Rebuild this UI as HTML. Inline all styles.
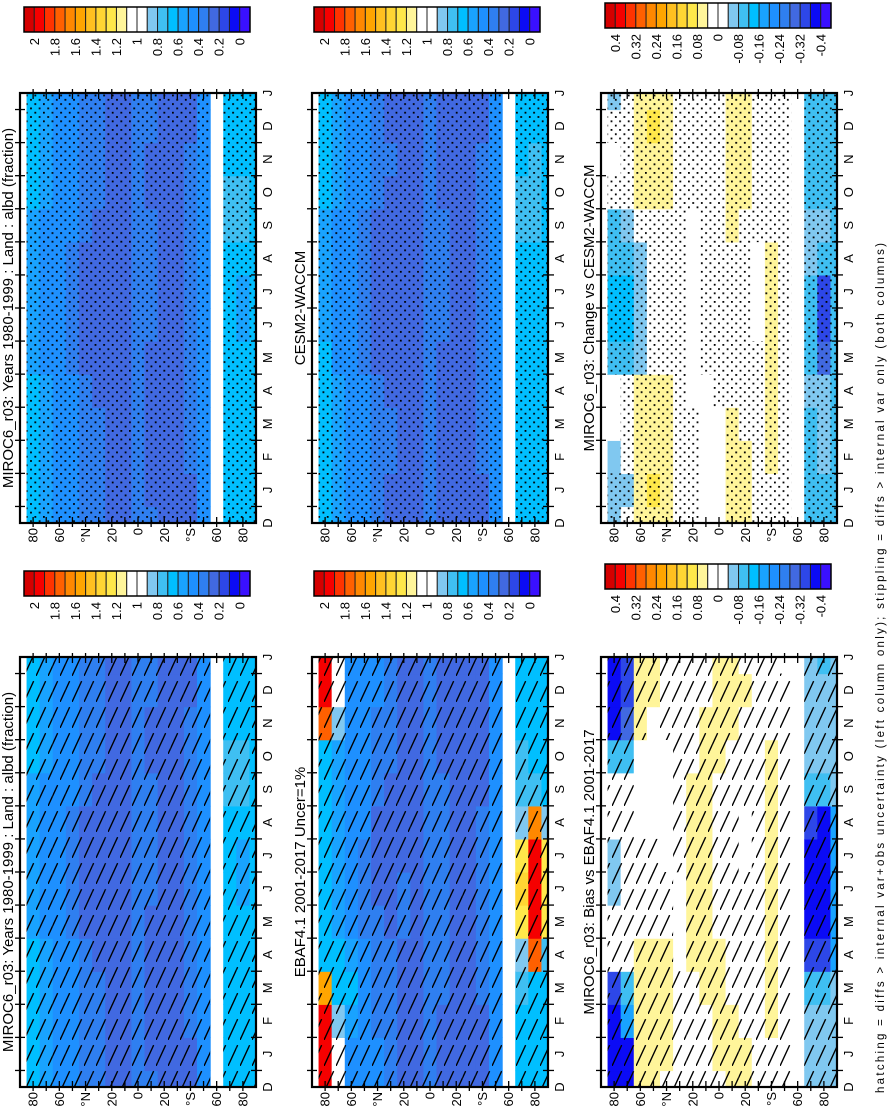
<!DOCTYPE html>
<html><head><meta charset="utf-8"><style>
html,body{margin:0;padding:0;background:#fff;}
svg{display:block;font-family:"Liberation Sans",Arial,sans-serif;}
</style></head><body>
<svg id="fig" width="891" height="1107" viewBox="0 0 891 1107" xmlns="http://www.w3.org/2000/svg">
<defs>
<pattern id="stip" patternUnits="userSpaceOnUse" width="8.6" height="8.6">
<rect x="0" y="0" width="1.8" height="1.8" fill="#000"/>
<rect x="4.3" y="4.3" width="1.8" height="1.8" fill="#000"/>
</pattern>
<pattern id="hatch" patternUnits="userSpaceOnUse" width="12" height="26">
<line x1="0" y1="26" x2="12" y2="0" stroke="#000" stroke-width="1.4" stroke-dasharray="23 5.6"/>
</pattern>
</defs>
<g id="root"></g>
</svg>
<script>
// ---- data ----
const months = ['D','J','F','M','A','M','J','J','A','S','O','N','D','J'];
const latBandEdges = [90,85,75,65,55,45,35,25,15,5,-5,-15,-25,-35,-45,-55,-65,-75,-85,-90];
const latTickLabels = ['80','60','°N','20','0','20','°S','60','80'];
const latTickValues = [80,60,40,20,0,-20,-40,-60,-80];
const absTickLabels = ['2','1.8','1.6','1.4','1.2','1','0.8','0.6','0.4','0.2','0'];
const diffTickLabels = ['0.4','0.32','0.24','0.16','0.08','0','-0.08','-0.16','-0.24','-0.32','-0.4'];
const palette = ['#d40000','#f50000','#ff3300','#ff6000','#ff8800','#ffa500','#ffc020','#ffd633','#ffe84a','#fff59a','#ffffff','#ffffff','#80c8f0','#3fbff2','#00bfff','#19a3ff','#1e90ff','#2f7ff0','#4169e1','#2d47e8','#0b0bf5','#3a10ff'];
const N = null;
const miroc = [
[N,N,N,N,N,N,N,N,N,N,N,N,N,N],
[.65,.65,.65,.65,.6,.55,.55,.55,.55,.55,.6,.65,.65,.65],
[.55,.55,.55,.55,.5,.45,.45,.45,.45,.45,.55,.55,.55,.55],
[.45,.45,.45,.45,.45,.45,.45,.45,.45,.45,.45,.45,.45,.45],
[.45,.45,.45,.45,.45,.35,.35,.35,.35,.45,.45,.45,.45,.45],
[.35,.35,.35,.35,.35,.25,.25,.25,.25,.35,.35,.35,.35,.35],
[.35,.35,.35,.35,.25,.25,.25,.25,.25,.25,.35,.35,.35,.35],
[.25,.25,.25,.25,.25,.25,.25,.25,.25,.25,.25,.25,.25,.25],
[.25,.25,.25,.25,.25,.25,.25,.25,.25,.25,.25,.25,.25,.25],
[.35,.35,.35,.35,.35,.35,.35,.35,.35,.35,.35,.35,.35,.35],
[.35,.25,.25,.25,.25,.25,.35,.35,.35,.35,.25,.25,.35,.35],
[.25,.25,.25,.25,.25,.25,.25,.25,.25,.25,.25,.25,.25,.25],
[.25,.25,.25,.25,.25,.25,.25,.25,.25,.25,.25,.25,.25,.25],
[.25,.25,.35,.35,.35,.35,.35,.35,.35,.35,.35,.35,.25,.25],
[.45,.45,.45,.45,.45,.45,.45,.45,.45,.45,.45,.45,.45,.45],
[N,N,N,N,N,N,N,N,N,N,N,N,N,N],
[.65,.65,.65,.65,.65,.65,.65,.65,.65,.75,.75,.65,.65,.65],
[.65,.65,.65,.65,.65,.65,.55,.55,.65,.75,.75,.65,.65,.65],
[.65,.65,.65,.65,.65,.65,.65,.65,.65,.65,.65,.65,.65,.65]
];
const cesm = [
[N,N,N,N,N,N,N,N,N,N,N,N,N,N],
[.65,.65,.65,.65,.65,.6,.55,.55,.55,.55,.6,.65,.65,.65],
[.55,.55,.55,.55,.55,.45,.45,.45,.45,.45,.55,.55,.55,.55],
[.45,.45,.45,.45,.45,.45,.45,.45,.45,.45,.45,.45,.45,.45],
[.45,.45,.45,.45,.45,.35,.35,.35,.35,.35,.45,.45,.45,.45],
[.35,.35,.35,.35,.35,.25,.25,.25,.25,.25,.35,.35,.35,.35],
[.25,.25,.35,.35,.25,.25,.25,.25,.25,.25,.25,.35,.25,.25],
[.25,.25,.25,.25,.25,.25,.25,.25,.25,.25,.25,.25,.25,.25],
[.25,.25,.25,.25,.25,.25,.25,.25,.25,.25,.25,.25,.25,.25],
[.35,.35,.35,.35,.35,.35,.35,.35,.35,.35,.35,.35,.35,.35],
[.25,.25,.25,.25,.25,.25,.35,.35,.35,.35,.25,.25,.25,.25],
[.25,.25,.25,.25,.25,.25,.25,.25,.25,.25,.25,.25,.25,.25],
[.25,.25,.25,.25,.25,.25,.25,.25,.25,.25,.25,.25,.25,.25],
[.25,.25,.35,.35,.35,.35,.35,.35,.35,.35,.35,.35,.25,.25],
[.45,.45,.45,.45,.45,.45,.45,.45,.45,.45,.45,.45,.45,.45],
[N,N,N,N,N,N,N,N,N,N,N,N,N,N],
[.65,.65,.65,.65,.65,.65,.65,.65,.65,.75,.75,.65,.65,.65],
[.65,.65,.65,.65,.65,.65,.65,.65,.65,.75,.75,.75,.65,.65],
[.65,.65,.65,.65,.65,.65,.65,.65,.65,.65,.65,.65,.65,.65]
];
const ebaf = [
[N,N,N,N,N,N,N,N,N,N,N,N,N,N],
[1.95,1.95,1.95,1.5,.65,.65,.65,.65,.65,.65,.65,1.7,1.95,1.95],
[1.05,1.05,.85,.65,.65,.55,.55,.55,.55,.55,.55,.85,1.05,1.05],
[.45,.45,.55,.65,.55,.45,.45,.45,.45,.45,.45,.45,.45,.45],
[.45,.45,.45,.45,.45,.35,.35,.35,.45,.45,.45,.45,.45,.45],
[.45,.45,.35,.35,.35,.35,.25,.25,.25,.35,.35,.35,.45,.45],
[.35,.35,.35,.35,.35,.25,.25,.25,.25,.25,.35,.35,.35,.35],
[.25,.25,.25,.25,.25,.35,.35,.25,.25,.25,.25,.25,.25,.25],
[.25,.25,.25,.25,.25,.25,.25,.25,.25,.25,.25,.25,.25,.25],
[.35,.35,.35,.35,.35,.35,.35,.35,.35,.35,.35,.35,.35,.35],
[.25,.25,.25,.35,.35,.35,.35,.35,.35,.35,.25,.25,.25,.25],
[.25,.25,.25,.25,.25,.25,.25,.25,.25,.25,.25,.25,.25,.25],
[.25,.25,.25,.25,.25,.25,.25,.25,.25,.25,.25,.25,.25,.25],
[.25,.25,.25,.35,.35,.35,.35,.35,.35,.25,.25,.25,.25,.25],
[.45,.45,.45,.45,.45,.45,.45,.45,.45,.45,.45,.45,.45,.45],
[N,N,N,N,N,N,N,N,N,N,N,N,N,N],
[.65,.65,.65,.75,.85,1.2,1.3,1.2,.85,.75,.75,.65,.65,.65],
[.65,.65,.65,.65,1.7,1.95,1.95,1.95,1.6,.75,.65,.65,.65,.65],
[.65,.65,.65,.65,.75,1.2,1.2,1.2,.85,.65,.65,.65,.65,.65]
];
const change = [
[N,N,N,N,N,N,N,N,N,N,N,N,N,N],
[-.05,-.05,-.06,0,0,-.1,-.15,-.15,-.12,-.1,0,0,0,-.05],
[0,-.05,0,0,0,-.1,-.15,-.15,-.12,-.08,0,0,0,0],
[.05,.05,.05,.05,.05,-.06,-.06,-.06,-.05,0,.05,.05,.05,.05],
[.06,.09,.06,.05,.05,0,0,0,0,0,.05,.06,.09,.07],
[.05,.05,.05,.05,.05,0,0,0,0,0,.05,.05,.05,.05],
[0,0,0,0,0,0,0,0,0,0,0,0,0,0],
[0,0,0,0,0,0,0,0,0,0,0,0,0,0],
[0,0,0,0,0,0,0,0,0,0,0,0,0,0],
[0,0,0,0,0,0,0,0,0,0,0,0,0,0],
[.05,.05,.05,.05,0,0,0,0,0,.05,.05,.05,.05,.05],
[.05,.05,.05,0,0,0,0,0,0,0,.05,.05,.05,.05],
[0,0,0,0,0,0,0,0,0,0,0,0,0,0],
[0,0,.05,.05,.05,.05,.05,.05,.05,0,0,0,0,0],
[0,0,0,0,0,0,0,0,0,0,0,0,0,0],
[N,N,N,N,N,N,N,N,N,N,N,N,N,N],
[-.12,-.12,-.1,-.1,-.06,-.1,-.1,-.1,-.06,-.06,-.1,-.12,-.12,-.12],
[-.1,-.1,-.08,-.05,-.05,-.3,-.35,-.35,-.1,-.05,-.1,-.1,-.1,-.1],
[-.1,-.1,-.1,-.1,-.1,-.1,-.1,-.1,-.1,-.1,-.1,-.1,-.1,-.1]
];
const bias = [
[N,N,N,N,N,N,N,N,N,N,N,N,N,N],
[-.4,-.4,-.4,-.35,-.02,0,-.05,-.05,0,0,-.1,-.4,-.4,-.4],
[-.4,-.4,-.2,-.1,0,0,0,0,0,0,-.1,-.3,-.35,-.35],
[.05,.05,.06,.06,.05,0,0,0,0,0,0,.05,.05,.05],
[.05,.06,.07,.07,.05,0,0,0,0,0,0,0,.05,.05],
[0,.05,.05,.05,.05,0,0,0,0,0,0,0,0,0],
[0,0,0,0,0,0,0,0,0,0,0,0,0,0],
[0,0,0,0,.05,.05,.05,.05,.05,.05,0,0,0,0],
[0,0,0,.05,.05,.05,.05,.05,.05,.05,.05,.05,0,0],
[0,.05,.05,.05,.05,0,0,0,0,0,.05,.05,.05,.05],
[.05,.05,.05,0,0,0,0,0,0,0,0,.05,.05,.05],
[.05,.05,0,0,0,0,0,0,0,0,0,0,.05,0],
[0,0,0,0,0,0,0,0,0,0,0,0,0,0],
[0,0,.05,.05,.05,.05,.05,.05,.05,.05,.05,0,0,0],
[0,0,0,0,0,0,0,0,0,0,0,0,0,0],
[N,N,N,N,N,N,N,N,N,N,N,N,N,N],
[-.06,-.06,-.06,-.1,-.35,-.4,-.4,-.4,-.35,-.1,-.06,-.06,-.06,-.06],
[-.06,-.06,-.06,-.1,-.35,-.4,-.4,-.4,-.4,-.1,-.06,-.06,-.06,-.1],
[-.06,-.06,-.06,-.06,-.2,-.2,-.2,-.2,-.2,-.06,-.06,-.06,-.06,-.06]
];
const stippleMaskChange = ['00000000000000','11000111111011','11111111111111','11111111111111','11111111111111','11111111111111','11111111111111','11110000001111','00000111111111','00001111111111','11111111111111','11111111111111','11111100011111','11111111111111','11111111111111','00000000000000','11111111111111','11111111111111','11111111111111'];
const hatchMaskBias = ['00000000000000','11111111111111','11111111111111','11111111000111','11111111000011','11111110000111','11110001111111','11111111111111','11111111111111','11111111111111','11111111111111','11111110011111','11111111111111','11111111111111','11111111111110','00000000000000','11111111111111','11111111111111','11111111111111'];

// ---- layout ----
const PW = 236, PH = 430;
const NS = 'http://www.w3.org/2000/svg';
const root = document.getElementById('root');
function mk(tag, attrs, parent){ const e=document.createElementNS(NS,tag); for(const k in attrs) e.setAttribute(k,attrs[k]); (parent||root).appendChild(e); return e; }
function boundsFor(kind){ const b=[]; for(let k=1;k<=21;k++){ b.push(kind==='abs' ? 2.1-0.1*k : 0.44-0.04*k); } return b; }
function colorFor(v, kind){ const b=boundsFor(kind); let n=0; for(const t of b){ if(t>v+1e-9) n++; } return palette[n]; }

const panels = [
 {id:'miroc-clim-stippled', x:20, y:93, data:miroc, kind:'abs', ov:'stip', mask:null, title:'MIROC6_r03: Years 1980-1999 : Land : albd (fraction)', cbx:24, cby:7},
 {id:'cesm2-waccm-clim', x:312, y:93, data:cesm, kind:'abs', ov:'stip', mask:null, title:'CESM2-WACCM', cbx:314, cby:7},
 {id:'change-vs-cesm2', x:601, y:93, data:change, kind:'diff', ov:'stip', mask:stippleMaskChange, title:'MIROC6_r03: Change vs CESM2-WACCM', cbx:605, cby:3},
 {id:'miroc-clim-hatched', x:20, y:657, data:miroc, kind:'abs', ov:'hatch', mask:null, title:'MIROC6_r03: Years 1980-1999 : Land : albd (fraction)', cbx:24, cby:571},
 {id:'ebaf-obs', x:312, y:657, data:ebaf, kind:'abs', ov:'hatch', mask:null, title:'EBAF4.1 2001-2017 Uncer=1%', cbx:314, cby:571},
 {id:'bias-vs-ebaf', x:601, y:657, data:bias, kind:'diff', ov:'hatch', mask:hatchMaskBias, title:'MIROC6_r03: Bias vs EBAF4.1 2001-2017', cbx:605, cby:564}
];

panels.forEach((p, pi) => {
  const xs = lat => p.x + (90-lat)/180*PW;
  const step = PH/13;
  const ys = i => p.y + PH - i*step;
  const g = mk('g', {});
  
  
  const cp = mk('clipPath', {id:'clip'+pi}, g);
  mk('rect', {x:p.x, y:p.y, width:PW, height:PH}, cp);
  const cells = mk('g', {'clip-path':'url(#clip'+pi+')'}, g);
  
  
  const ov = mk('g', {'clip-path':'url(#clip'+pi+')'}, g);
  
  
  p.data.forEach((row, r) => {
    const x0 = xs(latBandEdges[r]), x1 = xs(latBandEdges[r+1]);
    row.forEach((v, i) => {
      if (v === null) return;
      const yTop = ys(i) - step/2;
      const c = mk('rect', {x:x0, y:yTop, width:x1-x0+0.6, height:step+0.6, fill:colorFor(v, p.kind)}, cells);
      
      
      const on = p.mask ? p.mask[r][i]==='1' : true;
      if (on) {
        const o = mk('rect', {x:x0, y:yTop, width:x1-x0, height:step+0.3, fill:'url(#'+(p.ov==='stip'?'stip':'hatch')+')'}, ov);
        
        
      }
    });
  });
  const fr = mk('rect', {x:p.x, y:p.y, width:PW, height:PH, fill:'none', stroke:'#000', 'stroke-width':2.2}, g);
  
  
  for (let lat=80; lat>=-80; lat-=10) {
    const x = xs(lat);
    mk('line', {x1:x, y1:p.y+PH-6, x2:x, y2:p.y+PH+4, stroke:'#000', 'stroke-width':1.3}, g);
    mk('line', {x1:x, y1:p.y-4, x2:x, y2:p.y+6, stroke:'#000', 'stroke-width':1.3}, g);
  }
  latTickValues.forEach((lat, k) => {
    const t = mk('text', {transform:'translate('+xs(lat)+','+(p.y+PH+5)+') rotate(-90)', 'text-anchor':'end', dy:'0.35em', 'font-size':13}, g);
    t.textContent = latTickLabels[k];
    
    
  });
  for (let i=0; i<13; i++) {
    const y = ys(i) - step/2;
    mk('line', {x1:p.x+PW-5, y1:y, x2:p.x+PW+6, y2:y, stroke:'#000', 'stroke-width':1.3}, g);
    mk('line', {x1:p.x-5, y1:y, x2:p.x+5, y2:y, stroke:'#000', 'stroke-width':1.3}, g);
  }
  months.forEach((m, i) => {
    const t = mk('text', {transform:'translate('+(p.x+PW+16)+','+ys(i)+') rotate(-90)', 'text-anchor':'middle', 'font-size':13}, g);
    t.textContent = m;
    
    
  });
  const tt = mk('text', {transform:'translate('+(p.x-7)+','+(p.y+PH/2)+') rotate(-90)', 'text-anchor':'middle', 'font-size':15}, g);
  tt.textContent = p.title;
  
  
  const cb = mk('g', {}, g);
  
  
  const bw = 226/22, bh = 25;
  palette.forEach((c, k) => {
    const b = mk('rect', {x:p.cbx + k*bw, y:p.cby, width:bw, height:bh, fill:c, stroke:'#222', 'stroke-width':1}, cb);
    
    
  });
  mk('rect', {x:p.cbx, y:p.cby, width:226, height:bh, fill:'none', stroke:'#000', 'stroke-width':1.5}, cb);
  const labels = p.kind==='abs' ? absTickLabels : diffTickLabels;
  labels.forEach((lab, k) => {
    const x = p.cbx + (1+2*k)*bw;
    const t = mk('text', {transform:'translate('+x+','+(p.cby+bh+6)+') rotate(-90)', 'text-anchor':'end', dy:'0.35em', 'font-size':13}, cb);
    t.textContent = lab;
    
    
  });
});
const foot = mk('text', {transform:'translate(884,668) rotate(-90)', 'text-anchor':'middle', 'font-size':11.5, textLength:850, lengthAdjust:'spacing'});
foot.textContent = 'hatching = diffs > internal var+obs uncertainty (left column only); stippling = diffs > internal var only (both columns)';


</script>
</body></html>
